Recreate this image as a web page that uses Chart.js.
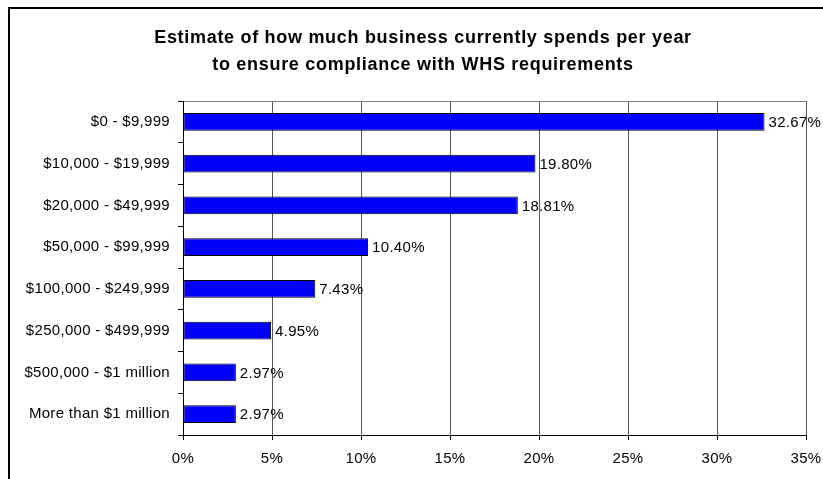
<!DOCTYPE html>
<html>
<head>
<meta charset="utf-8">
<script src="https://cdn.jsdelivr.net/npm/chart.js@4.4.1/dist/chart.umd.min.js"></script>
<style>
  html, body { margin: 0; padding: 0; background: #fff; }
  #wrap { position: relative; width: 823px; height: 479px; overflow: hidden; }
  #frame { position: absolute; left: 8px; top: 7px; right: -10px; bottom: -10px; border: 2px solid #000; }
  #spend { position: absolute; left: 0; top: 0; }
</style>
</head>
<body>
<div id="wrap">
  <div id="frame"></div>
  <canvas id="spend" width="823" height="479"></canvas>
</div>
<script>
const titleLines = [
  'Estimate of how much business currently spends per year',
  'to ensure compliance with WHS requirements'
];
const spendBands = [
  '$0 - $9,999',
  '$10,000 - $19,999',
  '$20,000 - $49,999',
  '$50,000 - $99,999',
  '$100,000 - $249,999',
  '$250,000 - $499,999',
  '$500,000 - $1 million',
  'More than $1 million'
];
const sharePct = [32.67, 19.80, 18.81, 10.40, 7.43, 4.95, 2.97, 2.97];
const axisMax = 35;
const axisStep = 5;

const FONT = 'Arial, "Liberation Sans", sans-serif';
const SPACING = '0.3px';

// a touch of tracking for the axis text
const tracking = {
  id: 'tracking',
  beforeUpdate(chart) { chart.ctx.letterSpacing = SPACING; },
  beforeDraw(chart) { chart.ctx.letterSpacing = SPACING; }
};

// two-line bold heading above the plot
const headingPlugin = {
  id: 'heading',
  afterDraw(chart) {
    const ctx = chart.ctx;
    ctx.save();
    ctx.fillStyle = '#000';
    ctx.font = 'bold 18px ' + FONT;
    ctx.letterSpacing = '0.7px';
    ctx.textAlign = 'center';
    ctx.textBaseline = 'alphabetic';
    titleLines.forEach((t, i) => ctx.fillText(t, 423, 42.5 + i * 27));
    ctx.restore();
  }
};

// percentage text just past the end of each bar
const valueLabels = {
  id: 'valueLabels',
  afterDatasetsDraw(chart) {
    const ctx = chart.ctx;
    const meta = chart.getDatasetMeta(0);
    ctx.save();
    ctx.fillStyle = '#000';
    ctx.font = '15px ' + FONT;
    ctx.textAlign = 'left';
    ctx.textBaseline = 'middle';
    meta.data.forEach((bar, i) => {
      ctx.fillText(sharePct[i].toFixed(2) + '%', bar.x + 4, bar.y + 1);
    });
    ctx.restore();
  }
};

new Chart(document.getElementById('spend'), {
  type: 'bar',
  data: {
    labels: spendBands,
    datasets: [{
      data: sharePct,
      backgroundColor: '#0000ff',
      borderColor: '#000',
      borderWidth: 1,
      borderSkipped: false,
      barPercentage: 0.42,
      categoryPercentage: 1
    }]
  },
  options: {
    indexAxis: 'y',
    responsive: false,
    animation: false,
    devicePixelRatio: 1,
    layout: { padding: { top: 101, right: 17, bottom: 0, left: 0 } },
    plugins: {
      legend: { display: false },
      tooltip: { enabled: false },
      title: { display: false }
    },
    scales: {
      x: {
        min: 0,
        max: axisMax,
        ticks: {
          stepSize: axisStep,
          color: '#000',
          font: { family: FONT, size: 15 },
          padding: 10,
          callback: v => v + '%'
        },
        grid: { color: '#555', tickColor: '#000', tickLength: 5, lineWidth: 1 },
        border: { color: '#000', width: 1 },
        afterFit(scale) {
          scale.height = 44;
          scale.paddingLeft = 0;
          scale.paddingRight = 0;
        }
      },
      y: {
        ticks: {
          color: '#000',
          font: { family: FONT, size: 15 },
          padding: 8
        },
        grid: {
          offset: true,
          drawOnChartArea: true,
          color: c => c.index === 0 ? '#808080' : 'rgba(0,0,0,0)',
          tickColor: '#000',
          tickLength: 5
        },
        border: { color: '#000', width: 1 },
        afterFit(scale) {
          scale.width = 183;
          scale.paddingTop = 0;
          scale.paddingBottom = 0;
        }
      }
    }
  },
  plugins: [tracking, headingPlugin, valueLabels]
});
</script>
</body>
</html>
